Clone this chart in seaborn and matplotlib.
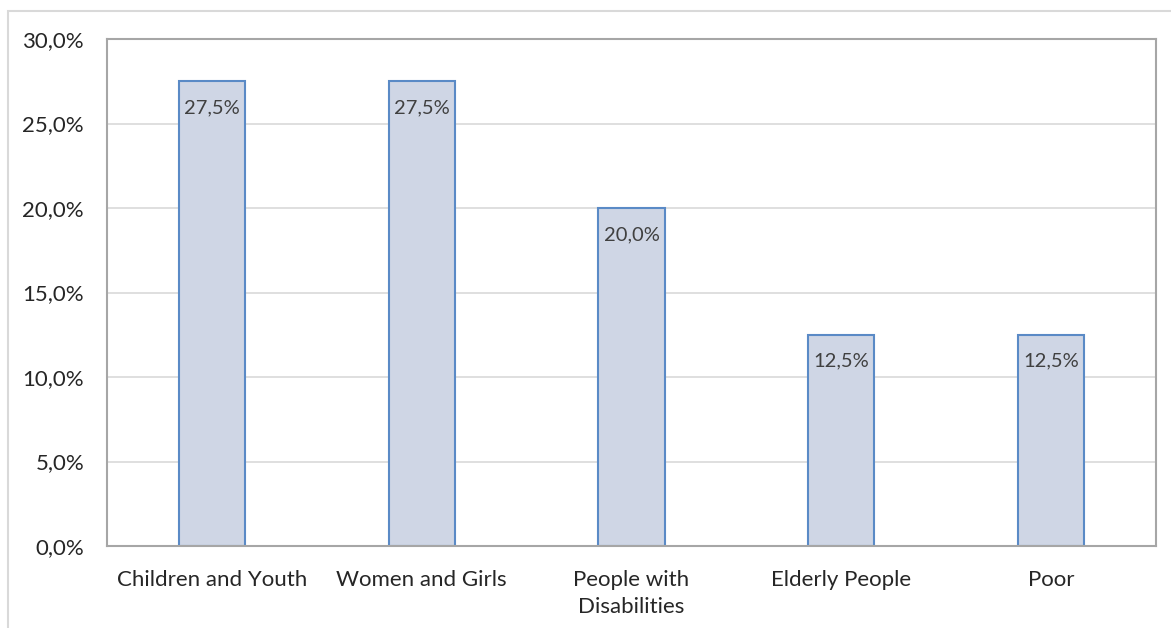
import matplotlib
matplotlib.use("Agg")
import matplotlib.pyplot as plt
import matplotlib.patches as mpatches
from matplotlib.ticker import FuncFormatter, MultipleLocator
import seaborn as sns
import pandas as pd

categories = ["Children and Youth", "Women and Girls", "People with\nDisabilities",
              "Elderly People", "Poor"]
shares = [27.5, 27.5, 20.0, 12.5, 12.5]
value_labels = ["27,5%", "27,5%", "20,0%", "12,5%", "12,5%"]

df = pd.DataFrame({"group": categories, "share": shares})

sns.set_theme(style="white")
plt.rcParams["font.family"] = ["Lato", "DejaVu Sans"]

W, H = 1171, 628
fig = plt.figure(figsize=(W / 100, H / 100), dpi=100)
ax = fig.add_axes([107 / W, 1 - 546 / H, (1156 - 107) / W, (546 - 39) / H])

# Outer chart frame
fig.patches.append(mpatches.Rectangle((8 / W, -0.1), 1.2, 1 - 11 / H + 0.1,
                                      transform=fig.transFigure, fill=False,
                                      edgecolor="#d9d9d9", linewidth=1.5))

sns.barplot(data=df, x="group", y="share", ax=ax, width=0.315,
            color="#cfd6e5", edgecolor="#5a8ac6", linewidth=1.5, saturation=1)

ax.set_ylim(0, 30)
ax.set_xlim(-0.5, len(categories) - 0.5)
ax.yaxis.set_major_locator(MultipleLocator(5))
ax.yaxis.set_major_formatter(FuncFormatter(lambda v, _: f"{v:.1f}%".replace(".", ",")))
ax.grid(axis="y", color="#d9d9d9", linewidth=1.2)
ax.set_axisbelow(True)
for s in ax.spines.values():
    s.set_color("#a6a6a6")
    s.set_linewidth(1.5)

ax.set_xlabel("")
ax.set_ylabel("")
ax.tick_params(axis="both", length=0, labelsize=16, colors="#262626")
ax.tick_params(axis="x", pad=17)
ax.tick_params(axis="y", pad=16.5)
for lbl in ax.get_yticklabels():
    lbl.set_horizontalalignment("right")
for lbl in ax.get_xticklabels():
    lbl.set_linespacing(1.45)

for i, (v, t) in enumerate(zip(shares, value_labels)):
    ax.annotate(t, (i, v), xytext=(0, -13), textcoords="offset points",
                ha="center", va="top", fontsize=14.5, color="#404040")

fig.savefig("out.png", dpi=100, facecolor="white")
